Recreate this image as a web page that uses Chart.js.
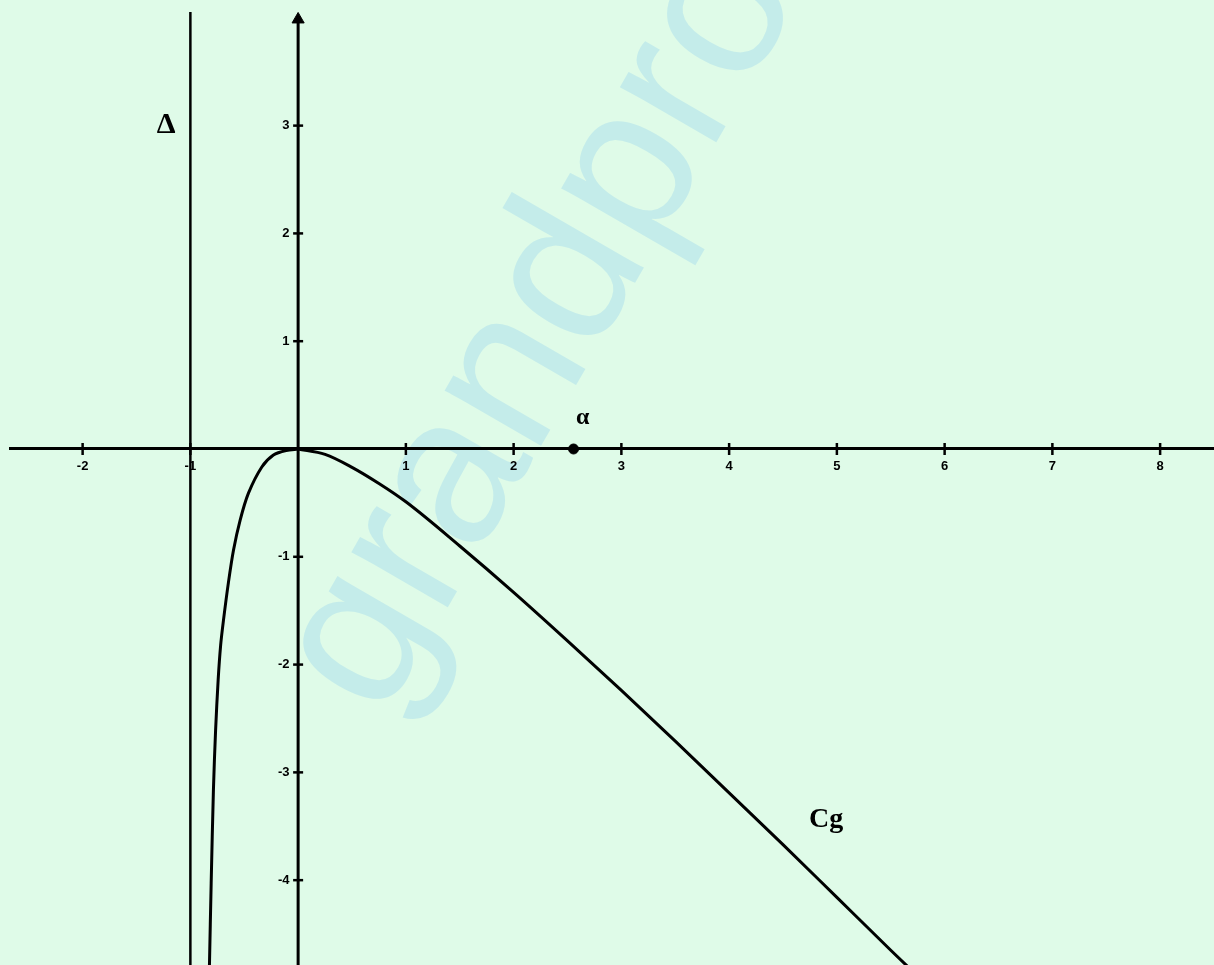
<!DOCTYPE html>
<html><head><meta charset="utf-8">
<script src="https://cdn.jsdelivr.net/npm/chart.js@4.4.1/dist/chart.umd.min.js"></script>
<style>
html,body{margin:0;padding:0;background:#dffbe8;overflow:hidden}
canvas{display:block}
</style>
</head><body><canvas id="c" width="1214" height="965" style="width:1214px;height:965px"></canvas>
<script>
// Curve Cg: left branch (from the asymptote up to the origin)
const leftX = [-0.823, -0.807, -0.786, -0.766, -0.742, -0.719, -0.693, -0.647, -0.600, -0.538, -0.461, -0.337, -0.229, -0.111, 0];
const leftY = [-4.79, -4.03, -3.16, -2.61, -2.14, -1.82, -1.59, -1.24, -0.94, -0.66, -0.41, -0.167, -0.056, -0.014, 0];
// right branch (from the origin down to the bottom edge)
const rightX = [0, 0.25, 0.5, 0.75, 1, 1.5, 2, 2.5, 3, 3.5, 4, 4.5, 5, 5.5, 5.75];
const rightY = [0, -0.05, -0.17, -0.32, -0.49, -0.90, -1.33, -1.78, -2.24, -2.71, -3.19, -3.67, -4.16, -4.65, -4.89];
// Asymptote Δ : x = -1
const deltaX = [-1, -1];
const deltaY = [-4.8, 4.06];
// Vertical axis line x = 0
const yAxisX = [0, 0];
const yAxisY = [-4.8, 4.0];
// Point α on the x axis
const alphaX = [2.556];
const alphaY = [0];
// Axis ticks
const xTicks = [-2, -1, 1, 2, 3, 4, 5, 6, 7, 8];
const yTicks = [-4, -3, -2, -1, 1, 2, 3];
const xRange = [-2.674, 8.5];
const yRange = [-4.787, 4.054];
// Text annotations
const noteText = ['Δ', 'α', 'Cg'];
const noteX = [-1.225, 2.64, 4.9];
const noteY = [3.0, 0.29, -3.44];

const xy = (xs, ys) => xs.map((x, i) => ({x, y: ys[i]}));

// let the plot area reach the canvas edges (no extra room reserved for the tick-mark points)
const ScatterCtl = Chart.registry.getController('scatter');
ScatterCtl.prototype.getMaxOverflow = function () { return 0; };

const watermark = {
  id: 'watermark',
  beforeDraw(chart) {
    const ctx = chart.ctx;
    ctx.save();
    ctx.translate(382, 721);
    ctx.rotate(-60 * Math.PI / 180);
    ctx.font = '210px "Liberation Sans", Arial, sans-serif';
    ctx.fillStyle = 'rgb(196,236,234)';
    ctx.textBaseline = 'alphabetic';
    ctx.fillText('grandpro', 0, 0);
    ctx.restore();
  }
};

const notes = {
  id: 'notes',
  afterDatasetsDraw(chart) {
    const {ctx, scales: {x, y}} = chart;
    const fonts = ['bold 30px "Liberation Serif", "Times New Roman", serif',
                   'bold 24px "Liberation Serif", "Times New Roman", serif',
                   'bold 28px "Liberation Serif", "Times New Roman", serif'];
    ctx.save();
    ctx.fillStyle = '#000';
    ctx.textAlign = 'center';
    ctx.textBaseline = 'middle';
    noteText.forEach((t, i) => {
      ctx.font = fonts[i];
      ctx.fillText(t, x.getPixelForValue(noteX[i]), y.getPixelForValue(noteY[i]));
    });
    ctx.restore();
  }
};

const tickFont = {family: '"Liberation Sans", Arial, sans-serif', size: 13, weight: 'bold'};
const noPad = s => { s.paddingTop = 0; s.paddingBottom = 0; s.paddingLeft = 0; s.paddingRight = 0; };

new Chart(document.getElementById('c'), {
  type: 'scatter',
  data: {
    datasets: [
      {label: 'Cg left', data: xy(leftX, leftY), showLine: true, borderColor: '#000', borderWidth: 3,
       pointRadius: 0, tension: 0.3, fill: false},
      {label: 'Cg right', data: xy(rightX, rightY), showLine: true, borderColor: '#000', borderWidth: 3,
       pointRadius: 0, cubicInterpolationMode: 'monotone', fill: false},
      {label: 'Δ', data: xy(deltaX, deltaY), showLine: true, borderColor: '#000', borderWidth: 2.5, pointRadius: 0},
      {label: 'axis', data: xy(yAxisX, yAxisY), showLine: true, borderColor: '#000', borderWidth: 3, pointRadius: 0},
      {label: 'α', data: xy(alphaX, alphaY), pointRadius: 5, backgroundColor: '#000', borderColor: '#000'},
      {label: 'xticks', data: xy(xTicks, xTicks.map(() => 0)), pointStyle: 'line', rotation: 90, radius: 6,
       borderColor: '#000', borderWidth: 2.5},
      {label: 'yticks', data: xy(yTicks.map(() => 0), yTicks), pointStyle: 'line', rotation: 0, radius: 5,
       borderColor: '#000', borderWidth: 2.5},
      {label: 'arrow', data: [{x: 0, y: 3.985}], pointStyle: 'triangle', radius: 7, rotation: 0,
       backgroundColor: '#000', borderColor: '#000', borderWidth: 1, clip: false}
    ]
  },
  options: {
    responsive: false,
    maintainAspectRatio: false,
    devicePixelRatio: 1,
    animation: false,
    events: [],
    layout: {padding: {left: 10, top: 12, right: 0, bottom: 0}},
    plugins: {legend: {display: false}, tooltip: {enabled: false}},
    scales: {
      x: {
        type: 'linear', min: xRange[0], max: xRange[1], position: {y: 0},
        afterBuildTicks: s => { s.ticks = xTicks.map(v => ({value: v})); },
        afterFit: noPad,
        grid: {display: true, drawOnChartArea: false, drawTicks: false},
        border: {display: true, color: '#000', width: 3},
        ticks: {color: '#000', font: tickFont, padding: 10, maxRotation: 0, autoSkip: false,
                callback: v => String(v)}
      },
      y: {
        type: 'linear', min: yRange[0], max: yRange[1], position: {x: -0.08},
        afterBuildTicks: s => { s.ticks = yTicks.map(v => ({value: v})); },
        afterFit: noPad,
        grid: {display: true, drawOnChartArea: false, drawTicks: false},
        border: {display: false},
        ticks: {color: '#000', font: tickFont, padding: 0, autoSkip: false,
                callback: v => String(v)}
      }
    }
  },
  plugins: [watermark, notes]
});
</script>
</body></html>
